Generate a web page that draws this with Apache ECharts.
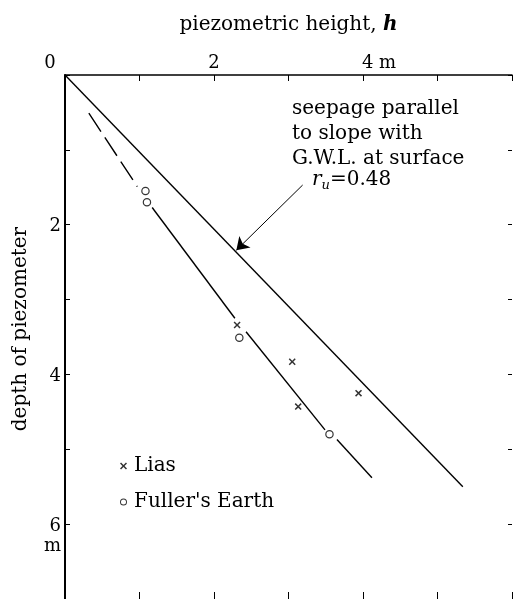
<!DOCTYPE html>
<html>
<head>
<meta charset="utf-8">
<script src="https://cdn.jsdelivr.net/npm/echarts@6/dist/echarts.min.js"></script>
<style>
html,body{margin:0;padding:0;background:#fff;}
#chart{width:515px;height:599px;}
</style>
</head>
<body>
<div id="chart"></div>
<script>
// ---- data (h = piezometric height, m ; depth of piezometer, m) ----
const xTickLabels = {0: '0', 2: '2', 4: '4 m'};
const yTickLabels = {2: '2', 4: '4', 6: '6'};
const seepageLine = [[0, 0], [5.34, 5.50]];
const fitDashed = [[0.32, 0.51], [0.97, 1.49]];
const fitSolidA = [[1.17, 1.77], [2.28, 3.25]];
const fitSolidB = [[2.43, 3.43], [3.49, 4.74]];
const fitSolidC = [[3.65, 4.87], [4.12, 5.38]];
const liasH = [2.31, 3.05, 3.13, 3.94];
const liasDepth = [3.34, 3.83, 4.43, 4.25];
const fullerH = [1.08, 1.10, 2.34, 3.55];
const fullerDepth = [1.55, 1.70, 3.51, 4.80];
const arrowLine = [[3.19, 1.47], [2.30, 2.34]];
const annotationLines = ['seepage parallel', 'to slope with', 'G.W.L. at surface'];
const ruValue = '0.48';

const FONT = 'DejaVu Serif';
const crossPath = 'path://M0,1.5L1.5,0L5,3.5L8.5,0L10,1.5L6.5,5L10,8.5L8.5,10L5,6.5L1.5,10L0,8.5L3.5,5Z';
const ringPath = 'path://M5,0A5,5 0 1,1 5,10A5,5 0 1,1 5,0ZM5,1.4A3.6,3.6 0 1,0 5,8.6A3.6,3.6 0 1,0 5,1.4Z';

const chart = echarts.init(document.getElementById('chart'), null, {renderer: 'canvas'});

const pair = (a, b) => a.map((v, i) => [v, b[i]]);
const lineSeries = (data, type) => ({
  type: 'line', data: data, symbol: 'none', silent: true,
  lineStyle: {color: '#000', width: 1.4, type: type || 'solid'},
  xAxisIndex: 0, yAxisIndex: 0, z: 2
});

const option = {
  backgroundColor: '#fff',
  animation: false,
  grid: {left: 65, top: 75, width: 452, height: 527, containLabel: false},
  xAxis: [
    {
      type: 'value', position: 'top', min: 0, max: 6, interval: 1,
      name: 'piezometric height, {i|h}',
      nameLocation: 'middle', nameGap: 40,
      nameTextStyle: {fontFamily: FONT, fontSize: 20, color: '#000',
        rich: {i: {fontFamily: FONT, fontSize: 20, fontStyle: 'italic', fontWeight: 'bold', color: '#000'}}},
      axisLine: {show: true, onZero: false, lineStyle: {color: '#000', width: 1.5}},
      axisTick: {show: true, inside: true, length: 6, lineStyle: {color: '#000', width: 1}},
      splitLine: {show: false},
      axisLabel: {
        margin: 3, fontFamily: FONT, fontSize: 18, color: '#000',
        formatter: function (v) {
          if (v === 0) return '{z|0}';
          if (v === 4) return '{p|}4 m';
          return xTickLabels[v] || '';
        },
        rich: {
          z: {fontFamily: FONT, fontSize: 18, color: '#000', padding: [0, 30, 0, 0]},
          p: {width: 32}
        }
      }
    },
    {
      type: 'value', position: 'bottom', min: 0, max: 6, interval: 1,
      axisLine: {show: false, onZero: false},
      axisTick: {show: true, inside: true, length: 7, lineStyle: {color: '#000', width: 1}},
      axisLabel: {show: false}, splitLine: {show: false}
    }
  ],
  yAxis: [
    {
      type: 'value', position: 'left', inverse: true, min: 0, max: 7, interval: 1,
      name: 'depth of piezometer', nameLocation: 'middle', nameGap: 34,
      nameTextStyle: {fontFamily: FONT, fontSize: 20, color: '#000', padding: [0, 0, 0, 16]},
      axisLine: {show: true, onZero: false, lineStyle: {color: '#000', width: 2}},
      axisTick: {show: true, inside: true, length: 5, lineStyle: {color: '#000', width: 1}},
      splitLine: {show: false},
      axisLabel: {
        margin: 4, fontFamily: FONT, fontSize: 18, color: '#000', lineHeight: 20,
        formatter: function (v) {
          if (v === 6) return '{t| }\n{t|6}\n{t|m}';
          return yTickLabels[v] ? '{t|' + yTickLabels[v] + '}' : '';
        },
        rich: {
          t: {fontFamily: FONT, fontSize: 18, color: '#000', lineHeight: 20, padding: [4, 0, 0, 0]}
        }
      }
    },
    {
      type: 'value', position: 'right', inverse: true, min: 0, max: 7, interval: 1,
      axisLine: {show: false, onZero: false},
      axisTick: {show: true, inside: true, length: 4, lineStyle: {color: '#000', width: 1}},
      axisLabel: {show: false}, splitLine: {show: false}
    }
  ],
  legend: {
    orient: 'vertical', left: 115, top: 451, itemWidth: 7, itemHeight: 7, itemGap: 16,
    textStyle: {fontFamily: FONT, fontSize: 20, color: '#000', padding: [0, 0, 0, 2]},
    data: [
      {name: 'Lias', icon: crossPath, itemStyle: {color: '#000'}},
      {name: "Fuller's Earth", icon: ringPath, itemStyle: {color: '#000'}}
    ],
    selectedMode: false
  },
  graphic: [
    {
      type: 'text', left: 292, top: 96, silent: true,
      style: {text: annotationLines.join('\n'), fontFamily: FONT, fontSize: 20, lineHeight: 25, fill: '#000'}
    },
    {
      type: 'text', left: 312, top: 170, silent: true,
      style: {
        text: '{r|r}{u|u}{n|=' + ruValue + '}',
        rich: {
          r: {fontFamily: FONT, fontSize: 20, fontStyle: 'italic', fill: '#000'},
          u: {fontFamily: FONT, fontSize: 13, fontStyle: 'italic', fill: '#000', padding: [12, 0, 0, 0]},
          n: {fontFamily: FONT, fontSize: 20, fill: '#000'}
        }
      }
    }
  ],
  series: [
    lineSeries(seepageLine),
    lineSeries(fitDashed, [22, 7]),
    lineSeries(fitSolidA),
    lineSeries(fitSolidB),
    lineSeries(fitSolidC),
    {
      name: 'Lias', type: 'scatter', data: pair(liasH, liasDepth),
      symbol: crossPath, symbolSize: 7, itemStyle: {color: '#000'}, z: 3
    },
    {
      name: "Fuller's Earth", type: 'scatter', data: pair(fullerH, fullerDepth),
      symbol: ringPath, symbolSize: 8.5,
      itemStyle: {color: '#000'}, z: 3
    },
    {
      type: 'lines', coordinateSystem: 'cartesian2d', xAxisIndex: 0, yAxisIndex: 0,
      data: [{coords: arrowLine}],
      symbol: ['none', 'arrow'], symbolSize: [7, 12],
      lineStyle: {color: '#000', width: 1, opacity: 1, curveness: 0}, z: 4
    }
  ]
};
chart.setOption(option);
</script>
</body>
</html>
